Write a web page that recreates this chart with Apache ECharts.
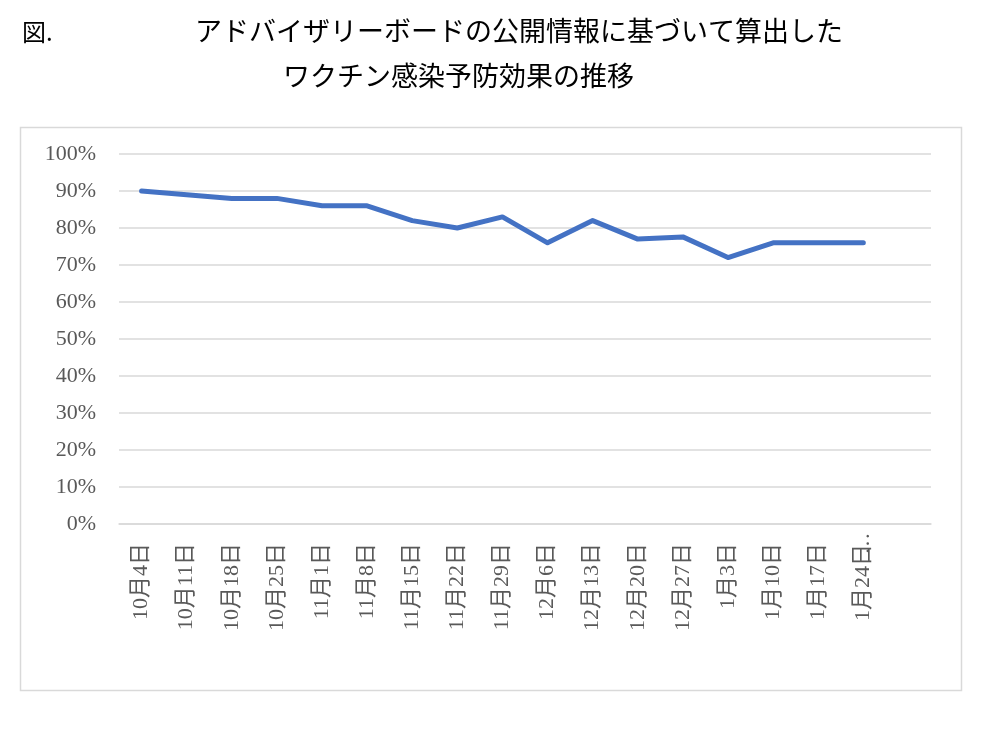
<!DOCTYPE html>
<html>
<head>
<meta charset="utf-8">
<script src="https://cdn.jsdelivr.net/npm/echarts@6/dist/echarts.min.js"></script>
<style>html,body{margin:0;padding:0;background:#fff;}#c{width:986px;height:736px;}</style>
</head>
<body>
<div id="c"></div>
<script>
const figLabel = '図.';
const titleLine1 = 'アドバイザリーボードの公開情報に基づいて算出した';
const titleLine2 = 'ワクチン感染予防効果の推移';
const categories = ['10月4日','10月11日','10月18日','10月25日','11月1日','11月8日','11月15日','11月22日','11月29日','12月6日','12月13日','12月20日','12月27日','1月3日','1月10日','1月17日','1月24日…',''];
const efficacy = [90, 89, 88, 88, 86, 86, 82, 80, 83, 76, 82, 77, 77.6, 72, 76, 76, 76];

const FONT = '"Liberation Serif","DejaVu Serif","Noto Sans CJK JP",serif';
const TFONT = '"Noto Sans CJK JP",sans-serif';
const chart = echarts.init(document.getElementById('c'), null, {renderer: 'canvas'});
chart.setOption({
  backgroundColor: '#fff',
  animation: false,
  graphic: [
    {type: 'rect', shape: {x: 20.5, y: 127.5, width: 941, height: 563}, style: {fill: 'none', stroke: '#d9d9d9', lineWidth: 1.5}, silent: true, z: -1},
    {type: 'text', left: 22, top: 20, style: {text: figLabel, font: '24px ' + TFONT, fill: '#000'}},
    {type: 'text', left: 195, top: 17, style: {text: titleLine1, font: '27px ' + TFONT, fill: '#000'}},
    {type: 'text', left: 283, top: 62, style: {text: titleLine2, font: '27px ' + TFONT, fill: '#000'}}
  ],
  grid: {left: 119, right: 55, top: 154, bottom: 212, containLabel: false},
  xAxis: {
    type: 'category',
    data: categories,
    boundaryGap: true,
    axisLine: {lineStyle: {color: '#d9d9d9', width: 1.5}},
    axisTick: {show: false},
    axisLabel: {
      interval: 0, rotate: 90, margin: 19, fontSize: 22, color: '#595959', fontFamily: FONT,
      formatter: function (v) {
        if (v.endsWith('…')) return '{a|' + v.slice(0, -1) + '}{e|…}';
        return v;
      },
      rich: {
        a: {fontSize: 22, color: '#595959', fontFamily: FONT},
        e: {fontSize: 22, color: '#595959', fontFamily: FONT, width: 1, align: 'left'}
      }
    }
  },
  yAxis: {
    type: 'value', min: 0, max: 100, interval: 10,
    axisLine: {show: false}, axisTick: {show: false},
    axisLabel: {formatter: '{value}%', fontSize: 22, color: '#595959', fontFamily: FONT, margin: 23},
    splitLine: {lineStyle: {color: '#d9d9d9', width: 1.5}}
  },
  series: [{
    type: 'line',
    data: efficacy,
    showSymbol: false,
    symbol: 'none',
    lineStyle: {color: '#4472C4', width: 5, cap: 'round', join: 'round'},
    itemStyle: {color: '#4472C4'}
  }]
});
</script>
</body>
</html>
